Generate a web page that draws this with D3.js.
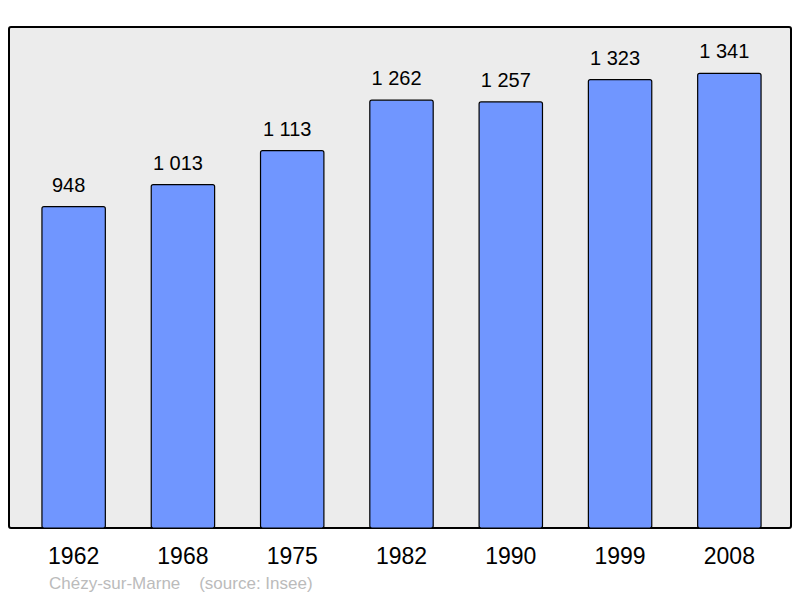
<!DOCTYPE html>
<html>
<head>
<meta charset="utf-8">
<script src="https://cdn.jsdelivr.net/npm/d3@7"></script>
<style>
  body { margin: 0; background: #fff; }
  svg { display: block; font-family: "Liberation Sans", Arial, sans-serif; }
</style>
</head>
<body>
<div id="chart"></div>
<script>
var years = ["1962", "1968", "1975", "1982", "1990", "1999", "2008"];
var population = [948, 1013, 1113, 1262, 1257, 1323, 1341];
var valueLabels = ["948", "1 013", "1 113", "1 262", "1 257", "1 323", "1 341"];
var caption = "Chézy-sur-Marne    (source: Insee)";

var width = 800, height = 598;

var svg = d3.select("#chart").append("svg")
    .attr("width", width)
    .attr("height", height);

// plot frame
svg.append("rect")
    .attr("x", 9).attr("y", 27)
    .attr("width", 782).attr("height", 501)
    .attr("rx", 2)
    .attr("fill", "#ececec")
    .attr("stroke", "#000")
    .attr("stroke-width", 2);

var x = d3.scaleBand()
    .domain(years)
    .range([19, 784])
    .paddingInner(0.42)
    .paddingOuter(0.21);

var y = d3.scaleLinear()
    .domain([0, 1478])
    .range([528, 27]);

svg.append("g")
    .selectAll("rect")
    .data(population)
    .enter().append("rect")
    .attr("x", function(d, i) { return x(years[i]); })
    .attr("y", function(d) { return y(d); })
    .attr("width", x.bandwidth())
    .attr("height", function(d) { return y(0) - y(d); })
    .attr("rx", 2)
    .attr("fill", "#7096ff")
    .attr("stroke", "#000")
    .attr("stroke-width", 1.2);

// value labels sit a bit left of the bar centre in the original
svg.append("g")
    .selectAll("text")
    .data(population)
    .enter().append("text")
    .attr("x", function(d, i) { return x(years[i]) + x.bandwidth() / 2 - 5; })
    .attr("y", function(d) { return y(d) - 15; })
    .attr("text-anchor", "middle")
    .attr("font-size", "20px")
    .attr("fill", "#000")
    .text(function(d, i) { return valueLabels[i]; });

// year labels
svg.append("g")
    .selectAll("text")
    .data(years)
    .enter().append("text")
    .attr("x", function(d) { return x(d) + x.bandwidth() / 2; })
    .attr("y", 564)
    .attr("text-anchor", "middle")
    .attr("font-size", "23px")
    .attr("fill", "#000")
    .text(function(d) { return d; });

svg.append("text")
    .attr("x", 49)
    .attr("y", 589)
    .attr("font-size", "17px")
    .attr("fill", "#bbb")
    .attr("xml:space", "preserve")
    .style("white-space", "pre")
    .text(caption);
</script>
</body>
</html>
